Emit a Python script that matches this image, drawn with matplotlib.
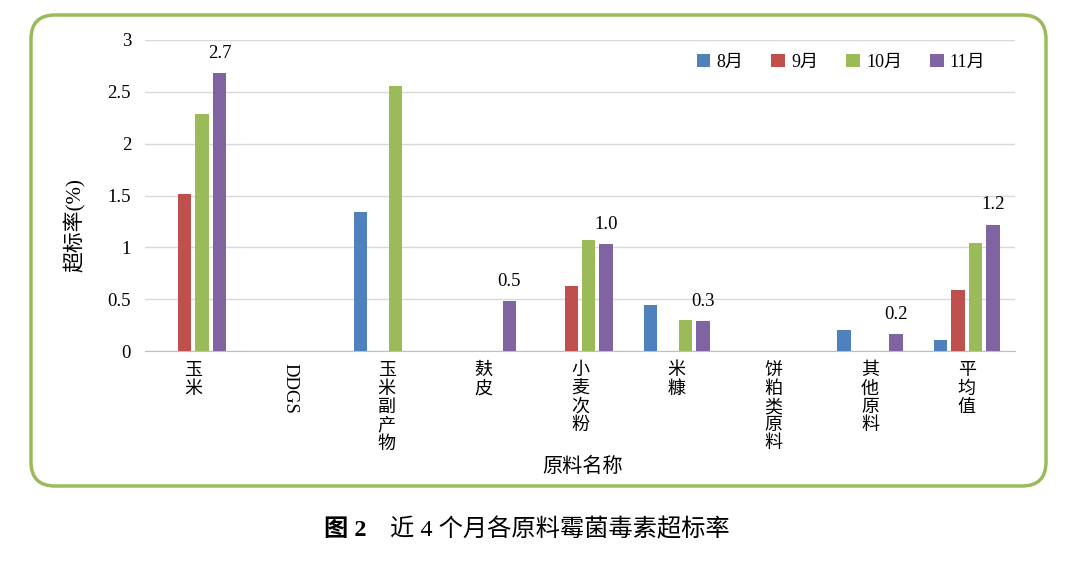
import matplotlib
matplotlib.use("Agg")
import matplotlib.pyplot as plt
import numpy as np
from matplotlib.patches import FancyBboxPatch
from matplotlib.transforms import IdentityTransform

categories = ["玉米", "DDGS", "玉米副产物", "麸皮", "小麦次粉", "米糠", "饼粕类原料", "其他原料", "平均值"]
months = ["8月", "9月", "10月", "11月"]
aug = [0, 0, 1.34, 0, 0, 0.44, 0, 0.20, 0.11]
sep = [1.51, 0, 0, 0, 0.63, 0, 0, 0, 0.585]
octo = [2.29, 0, 2.56, 0, 1.07, 0.30, 0, 0, 1.04]
nov = [2.68, 0, 0, 0.48, 1.03, 0.29, 0, 0.16, 1.22]
nov_labels = ["2.7", "", "", "0.5", "1.0", "0.3", "", "0.2", "1.2"]
colors = ["#4F81BD", "#C0504D", "#9BBB59", "#8064A2"]

SERIF = ["Liberation Serif", "Noto Sans CJK SC"]
CJK = ["Noto Sans CJK SC", "Liberation Serif"]

fig = plt.figure(figsize=(10.8, 5.61), dpi=100)
ax = fig.add_axes([145 / 1080, 1 - 351 / 561, 870 / 1080, 311 / 561])

x = np.arange(len(categories))
slot = 0.18
width = 0.14
for i, (vals, c, m) in enumerate(zip([aug, sep, octo, nov], colors, months)):
    off = (i - 1.5) * slot
    ax.bar(x + off, vals, width, color=c, label=m, zorder=3)

for xi, v, lab in zip(x, nov, nov_labels):
    if lab:
        ax.annotate(lab, (xi + 1.5 * slot, v), xytext=(0, 8), textcoords="offset points",
                    ha="center", va="bottom", fontsize=13.5, family=SERIF)

ax.set_xlim(-0.5, len(categories) - 0.5)
ax.set_ylim(0, 3)
ax.set_yticks([0, 0.5, 1, 1.5, 2, 2.5, 3])
ax.set_yticklabels(["0", "0.5", "1", "1.5", "2", "2.5", "3"], family=SERIF, fontsize=13.5)
ax.grid(axis="y", color="#D9D9D9", linewidth=1, zorder=0)
ax.tick_params(axis="y", length=0, pad=10)
ax.tick_params(axis="x", length=0, pad=8)
for s in ["top", "right", "left"]:
    ax.spines[s].set_visible(False)
ax.spines["bottom"].set_color("#BFBFBF")

ax.set_xticks(x)
ax.set_xticklabels([])
for xi, cat in zip(x, categories):
    if cat.isascii():
        ax.text(xi, -0.12, cat, rotation=270, ha="center", va="top", fontsize=13.5,
                family=SERIF, transform=ax.transData)
    else:
        ax.text(xi, -0.1, "\n".join(cat), ha="center", va="top", fontsize=13,
                family=CJK, linespacing=1.02, transform=ax.transData)

fig.text(75 / 1080, 1 - 225 / 561, "超标率(%)", rotation=90, ha="center", va="center",
         fontsize=15, family=SERIF)
fig.text(583 / 1080, 1 - 467 / 561, "原料名称", ha="center", va="center", fontsize=14.5, family=CJK)

leg = ax.legend(loc="center", bbox_to_anchor=(841 / 1080, 1 - 62 / 561), bbox_transform=fig.transFigure,
                ncol=4, frameon=False, handlelength=0.75, handleheight=0.75, handletextpad=0.35,
                columnspacing=1.55, prop={"family": SERIF, "size": 13})

border = FancyBboxPatch((31, 561 - 486), 1015, 471, boxstyle="round,pad=0,rounding_size=24",
                        transform=IdentityTransform(), facecolor="none", edgecolor="#9BBB59",
                        linewidth=2.5)
fig.patches.append(border)

fig.text(345 / 1080, 1 - 530 / 561, "图 2", ha="center", va="center", fontsize=17.5,
         fontweight="bold", family=SERIF)
fig.text(390 / 1080, 1 - 530 / 561, "近 4 个月各原料霉菌毒素超标率", ha="left", va="center",
         fontsize=17.5, family=SERIF)

fig.savefig("out.png", dpi=100)
